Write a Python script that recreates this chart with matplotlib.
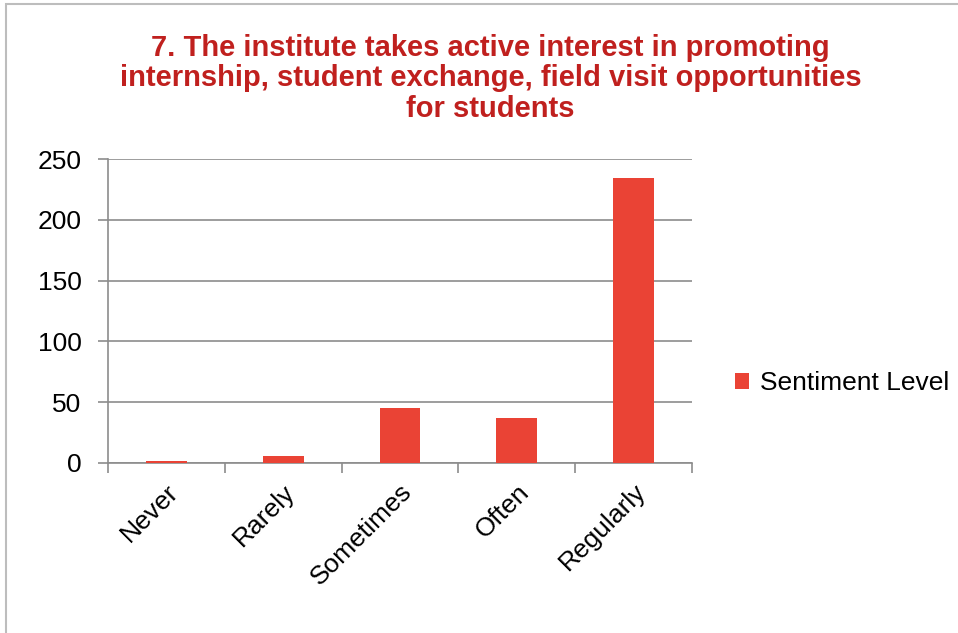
import numpy as np
import matplotlib.pyplot as plt
from matplotlib.patches import Rectangle

plt.rcParams['font.family'] = ['Liberation Sans', 'DejaVu Sans']

categories = ['Never', 'Rarely', 'Sometimes', 'Often', 'Regularly']
values = [2, 6, 45, 37, 234]
series_name = 'Sentiment Level'
title = ('7. The institute takes active interest in promoting\n'
         'internship, student exchange, field visit opportunities\n'
         'for students')

BAR = '#EA4335'
TITLE = '#C0201E'
GRID = '#8C8C8C'

fig = plt.figure(figsize=(9.58, 6.33), dpi=100)
ax = fig.add_axes([0.1127, 0.2686, 0.6096, 0.4802])

# outer chart frame (only left/top visible in the reference)
fig.patches.append(Rectangle((6 / 958, -0.1), 1.2, 1.1 - 4 / 633, transform=fig.transFigure,
                             fill=False, edgecolor='#BDBDBD', linewidth=1.5))

x = np.arange(len(categories))
bars = ax.bar(x, values, width=0.35, color=BAR, label=series_name, zorder=3)

ax.set_ylim(0, 250)
ax.set_xlim(-0.5, len(categories) - 0.5)
ax.set_yticks(np.arange(0, 251, 50))
ax.yaxis.grid(True, color=GRID, linewidth=1.2, zorder=0)
ax.set_axisbelow(True)

ax.set_xticks(np.arange(-0.5, len(categories), 1.0), minor=False)
ax.set_xticklabels([])
ax.set_xticks(x, minor=True)
ax.set_xticklabels(categories, minor=True, rotation=45, ha='right', rotation_mode='anchor',
                   fontsize=19)
ax.tick_params(axis='x', which='minor', length=0, pad=12)
ax.tick_params(axis='x', which='major', length=7, color=GRID, width=1.2)
ax.tick_params(axis='y', length=7, color=GRID, width=1.2, labelsize=19, pad=12)

for s in ['top', 'right']:
    ax.spines[s].set_visible(False)
for s in ['left', 'bottom']:
    ax.spines[s].set_color(GRID)
    ax.spines[s].set_linewidth(1.2)

fig.text(0.512, 0.947, title, ha='center', va='top', fontsize=21, fontweight='bold',
         color=TITLE, linespacing=1.12)

fig.legend(handles=[bars], labels=[series_name], loc='center left',
           bbox_to_anchor=(0.756, 0.395), frameon=False, fontsize=19,
           handlelength=0.55, handleheight=0.55, handletextpad=0.4, borderaxespad=0)

fig.savefig('out.png', dpi=100)
